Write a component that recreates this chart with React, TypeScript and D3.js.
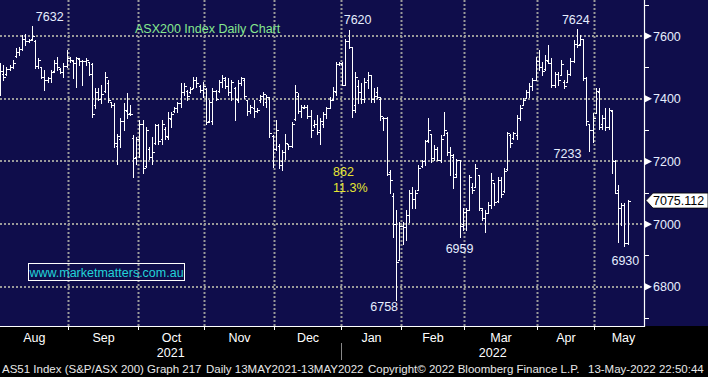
import React from "react";
import * as d3 from "d3";

type Bar = [number, number, number, number]; // open, high, low, close

const aug: Bar[] = [
  [7420,7513,7412,7490],[7480,7507,7459,7470],[7478,7502,7475,7495],[7495,7507,7491,7500],
  [7500,7523,7497,7515],[7536,7561,7534,7550],[7550,7566,7539,7560],[7560,7603,7555,7590],
  [7590,7608,7571,7585],[7585,7592,7582,7588],[7590,7632,7587,7600],[7585,7587,7497,7505],
  [7505,7529,7497,7525],[7500,7502,7465,7470],[7470,7491,7428,7460],[7460,7470,7454,7465],
  [7465,7491,7454,7486],[7488,7523,7486,7515],[7515,7534,7491,7500],[7495,7497,7481,7485],
  [7485,7513,7470,7505],[7505,7555,7502,7530]
];
const sep: Bar[] = [
  [7530,7534,7518,7522],[7520,7523,7465,7515],[7515,7534,7438,7530],[7528,7529,7507,7520],
  [7520,7523,7444,7520],[7520,7529,7507,7525],[7518,7518,7475,7480],[7510,7513,7342,7350],
  [7380,7433,7369,7420],[7420,7433,7396,7400],[7400,7444,7385,7415],[7425,7486,7422,7470],
  [7450,7459,7390,7395],[7390,7390,7374,7380],[7380,7385,7247,7260],[7250,7289,7193,7280],
  [7270,7337,7247,7330],[7330,7385,7300,7365],[7360,7417,7337,7350],[7355,7380,7348,7352],
  [7276,7284,7151,7210],[7215,7279,7193,7270]
];
const oct: Bar[] = [
  [7270,7332,7215,7320],[7320,7332,7162,7180],[7185,7311,7183,7300],[7240,7247,7209,7215],
  [7215,7279,7193,7230],[7260,7321,7257,7315],[7315,7321,7257,7265],[7270,7332,7257,7320],
  [7305,7311,7273,7280],[7278,7358,7273,7340],[7335,7358,7311,7350],[7360,7374,7358,7370],
  [7370,7390,7358,7385],[7385,7449,7374,7420],[7420,7449,7412,7440],[7425,7428,7396,7410],
  [7420,7438,7417,7430],[7435,7470,7433,7460],[7460,7470,7438,7450],[7440,7444,7422,7428],
  [7428,7454,7406,7440]
];
const nov: Bar[] = [
  [7430,7433,7321,7325],[7330,7396,7326,7390],[7330,7433,7321,7425],[7425,7428,7396,7400],
  [7425,7459,7422,7455],[7455,7475,7438,7465],[7460,7470,7433,7440],[7440,7465,7412,7420],
  [7420,7459,7396,7455],[7435,7438,7332,7400],[7395,7459,7390,7450],[7450,7470,7444,7465],
  [7460,7465,7401,7410],[7395,7396,7348,7360],[7360,7380,7353,7375],[7370,7396,7342,7360],
  [7360,7369,7358,7365],[7395,7412,7390,7410],[7410,7422,7380,7415],[7390,7412,7374,7405],
  [7405,7406,7279,7290],[7280,7284,7183,7240]
];
const dec: Bar[] = [
  [7240,7332,7236,7300],[7250,7257,7178,7190],[7200,7236,7172,7230],[7230,7289,7209,7260],
  [7255,7257,7241,7250],[7250,7326,7247,7320],[7335,7444,7332,7420],[7410,7417,7353,7360],
  [7360,7380,7342,7375],[7370,7380,7369,7375],[7375,7380,7337,7345],[7345,7364,7279,7300],
  [7315,7332,7311,7320],[7320,7348,7289,7295],[7300,7337,7257,7330],[7320,7358,7311,7350],
  [7350,7374,7337,7370],[7370,7406,7369,7395],[7400,7438,7396,7425],[7420,7518,7412,7510],
  [7510,7518,7507,7515]
];
const jan: Bar[] = [
  [7510,7518,7444,7444],[7445,7592,7444,7585],[7585,7620,7561,7565],[7565,7566,7342,7365],
  [7380,7486,7358,7470],[7440,7459,7385,7420],[7420,7449,7385,7400],[7400,7465,7390,7455],
  [7460,7486,7433,7475],[7475,7475,7390,7400],[7400,7433,7390,7410],[7420,7438,7401,7405],
  [7400,7406,7332,7345],[7340,7342,7300,7340],[7340,7342,7156,7160],[7165,7172,7098,7140],
  [7090,7098,6959,7000],[7000,7044,6758,6880],[6885,7007,6885,6995]
];
const feb: Bar[] = [
  [6995,7007,6938,6990],[6990,7044,6949,7030],[7030,7108,7007,7100],[7100,7119,7050,7080],
  [7080,7108,7050,7100],[7110,7188,7108,7180],[7185,7204,7183,7200],[7200,7268,7188,7265],
  [7268,7337,7263,7300],[7289,7289,7199,7210],[7210,7252,7204,7240],[7240,7247,7204,7205],
  [7205,7284,7199,7270],[7285,7358,7284,7300],[7290,7295,7220,7230],[7230,7247,7156,7220],
  [7215,7225,7114,7150],[7160,7209,7151,7205],[7204,7204,6959,6995],[7000,7050,6981,7040]
];
const mar: Bar[] = [
  [7040,7050,6981,7045],[7045,7156,7044,7150],[7120,7130,7098,7110],[7120,7193,7119,7180],
  [7156,7156,7044,7050],[7045,7050,7013,7020],[7020,7044,6975,7035],[7035,7071,7034,7060],
  [7060,7162,7050,7140],[7130,7130,7060,7070],[7075,7151,7071,7140],[7140,7151,7087,7095],
  [7105,7178,7103,7170],[7175,7295,7172,7290],[7285,7289,7247,7260],[7275,7295,7273,7290],
  [7285,7348,7273,7340],[7340,7380,7332,7370],[7380,7401,7380,7395],[7401,7428,7401,7420],
  [7420,7449,7406,7440],[7440,7465,7428,7460],[7460,7534,7459,7520]
];
const apr: Bar[] = [
  [7520,7555,7491,7500],[7500,7518,7475,7490],[7495,7539,7491,7525],[7520,7571,7513,7515],
  [7515,7529,7438,7445],[7445,7486,7438,7480],[7480,7486,7444,7460],[7475,7523,7475,7510],
  [7455,7459,7433,7440],[7455,7491,7454,7480],[7480,7529,7475,7520],[7520,7587,7518,7575],
  [7575,7624,7566,7570],[7575,7603,7571,7590],[7590,7592,7459,7465],[7465,7470,7316,7330],
  [7320,7321,7233,7300],[7300,7353,7263,7340]
];
const may: Bar[] = [
  [7353,7433,7353,7425],[7420,7433,7305,7310],[7320,7348,7305,7340],[7340,7369,7300,7310],
  [7310,7369,7305,7365],[7360,7364,7162,7200],[7200,7204,7098,7100],[7110,7124,6943,7050],
  [7050,7066,6997,7060],[7060,7066,6930,6940],[6940,7076,6938,7075.112]
];

const monthNames = ["Aug", "Sep", "Oct", "Nov", "Dec", "Jan", "Feb", "Mar", "Apr", "May"];
const monthBars = [aug, sep, oct, nov, dec, jan, feb, mar, apr, may];
const years = [{ label: "2021", from: 0, to: 5 }, { label: "2022", from: 5, to: 10 }];
const gridLevels = [6800, 7000, 7200, 7400, 7600];
const minorLevels = [6700, 6900, 7100, 7300, 7500, 7700];
const lastPrice = 7075.112;

const notes = [
  { text: "7632", idx: 10, value: 7632, off: -10, shift: 18 },
  { text: "7620", idx: 110, value: 7620, off: -10, shift: 9 },
  { text: "7624", idx: 182, value: 7624, off: -9, shift: -1 },
  { text: "7233", idx: 186, value: 7233, off: 2, shift: -22 },
  { text: "6959", idx: 145, value: 6959, off: 12, shift: 0 },
  { text: "6758", idx: 125, value: 6758, off: 7, shift: -12 },
  { text: "6930", idx: 197, value: 6930, off: 14, shift: 1 },
];

const W = 708, H = 377;
const PW = 644, PH = 326;

export default function App() {
  const data: Bar[] = monthBars.flat();
  const starts: number[] = [];
  let acc = 0;
  monthBars.forEach((m) => { starts.push(acc); acc += m.length; });
  const total = acc;

  const x = d3.scaleLinear().domain([0, 203.2]).range([0, PW]);
  const y = d3.scaleLinear().domain([6675, 7715]).range([PH, 0]);

  const gx = (i: number) => x(i - 0.5);
  const bound = starts.slice(1).map((s) => Math.round(gx(s)) + 0.5);
  const edges = [0, ...bound, PW];

  let path = "";
  data.forEach((d, i) => {
    const cx = Math.round(x(i)) + 0.5;
    const [o, h, l, c] = d;
    const yo = Math.round(y(o)) + 0.5, yc = Math.round(y(c)) + 0.5;
    path += `M${cx},${Math.round(y(h))}V${Math.round(y(l)) + 1}`;
    path += `M${cx - 1.5},${yo}H${cx}`;
    path += `M${cx},${yc}H${cx + 2}`;
  });

  const font = "'Liberation Sans', Arial, sans-serif";
  const yl = y(lastPrice);

  return (
    <svg width={W} height={H} style={{ position: "absolute", left: 0, top: 0 }} fontFamily={font}>
      <rect x={0} y={0} width={W} height={H} fill="#000" />
      <rect x={0} y={0} width={W} height={PH} fill="#0f0d4b" />
      {/* grid */}
      <g stroke="#9a9a9a" strokeWidth={2} strokeDasharray="2,2">
        {gridLevels.map((v) => (
          <line key={v} x1={0} x2={PW} y1={Math.round(y(v))} y2={Math.round(y(v))} />
        ))}
        {bound.map((bx, k) => (
          <line key={k} x1={bx} x2={bx} y1={0} y2={PH} />
        ))}
      </g>
      {/* bars */}
      <path d={path} stroke="#fff" strokeWidth={1} fill="none" shapeRendering="crispEdges" />
      {/* axes */}
      <line x1={0} x2={PW + 0.5} y1={PH + 0.5} y2={PH + 0.5} stroke="#fff" strokeWidth={1.2} />
      <line x1={PW + 0.5} x2={PW + 0.5} y1={0} y2={PH + 1} stroke="#fff" strokeWidth={1.2} />
      {bound.map((bx, k) => (
        <line key={k} x1={bx} x2={bx} y1={PH} y2={PH + 4} stroke="#fff" strokeWidth={1} />
      ))}
      {minorLevels.map((v) => (
        <line key={v} x1={PW} x2={PW + 5} y1={Math.round(y(v)) + 0.5} y2={Math.round(y(v)) + 0.5} stroke="#fff" />
      ))}
      {gridLevels.map((v) => {
        const yy = y(v);
        return (
          <g key={v}>
            <path d={`M${PW + 1},${yy - 3.5}L${PW + 8},${yy}L${PW + 1},${yy + 3.5}Z`} fill="#fff" />
            <text x={PW + 9} y={yy} dy="0.36em" fontSize={12.5} fill="#e6eeff">{v}</text>
          </g>
        );
      })}
      {/* last price tag */}
      <path d={`M${PW + 2},${yl}L${PW + 9},${yl - 7.5}H${W}V${yl + 7.5}H${PW + 9}Z`} fill="#fff" stroke="#000" strokeWidth={0.8} />
      <text x={PW + 9} y={yl} dy="0.36em" fontSize={12.5} fill="#000">{lastPrice.toFixed(3)}</text>
      {/* month labels */}
      {monthNames.map((m, k) => {
        const a = edges[k], b = k === monthNames.length - 1 ? x(total - 1) + 25 : edges[k + 1];
        return (
          <text key={m} x={(a + b) / 2} y={337} dy="0.36em" textAnchor="middle" fontSize={12.5} fill="#fff">{m}</text>
        );
      })}
      {years.map((yr) => {
        const a = edges[yr.from], b = edges[yr.to];
        return (
          <text key={yr.label} x={(a + b) / 2} y={352} dy="0.36em" textAnchor="middle" fontSize={12.5} fill="#fff">{yr.label}</text>
        );
      })}
      <line x1={edges[5]} x2={edges[5]} y1={343} y2={360} stroke="#888" strokeWidth={1} />
      {/* footer */}
      <text y={369} dy="0.36em" fontSize={11.5} fill="#e8e8e8">
        <tspan x={2}>AS51 Index (S&amp;P/ASX 200) Graph 217</tspan>
        <tspan x={206}>Daily 13MAY2021-13MAY2022</tspan>
        <tspan x={368}>Copyright© 2022 Bloomberg Finance L.P.</tspan>
        <tspan x={588}>13-May-2022 22:50:44</tspan>
      </text>
      {/* title */}
      <text x={135} y={28} dy="0.36em" fontSize={12.5} fill="#86e88e">ASX200 Index Daily Chart</text>
      {/* annotations */}
      {notes.map((n) => (
        <text key={n.text} x={x(n.idx) + n.shift} y={y(n.value) + n.off} dy="0.36em" textAnchor="middle" fontSize={12.5} fill="#e6eeff">{n.text}</text>
      ))}
      <text x={333} y={171} dy="0.36em" fontSize={12.5} fill="#e6e632">862</text>
      <text x={333} y={187} dy="0.36em" fontSize={12.5} fill="#e6e632">11.3%</text>
      {/* url box */}
      <rect x={28.5} y={263.5} width={156} height={17} fill="none" stroke="#fff" strokeWidth={1} />
      <text x={106.5} y={272} dy="0.36em" textAnchor="middle" fontSize={12.5} fill="#22d3d8">www.marketmatters.com.au</text>
    </svg>
  );
}
